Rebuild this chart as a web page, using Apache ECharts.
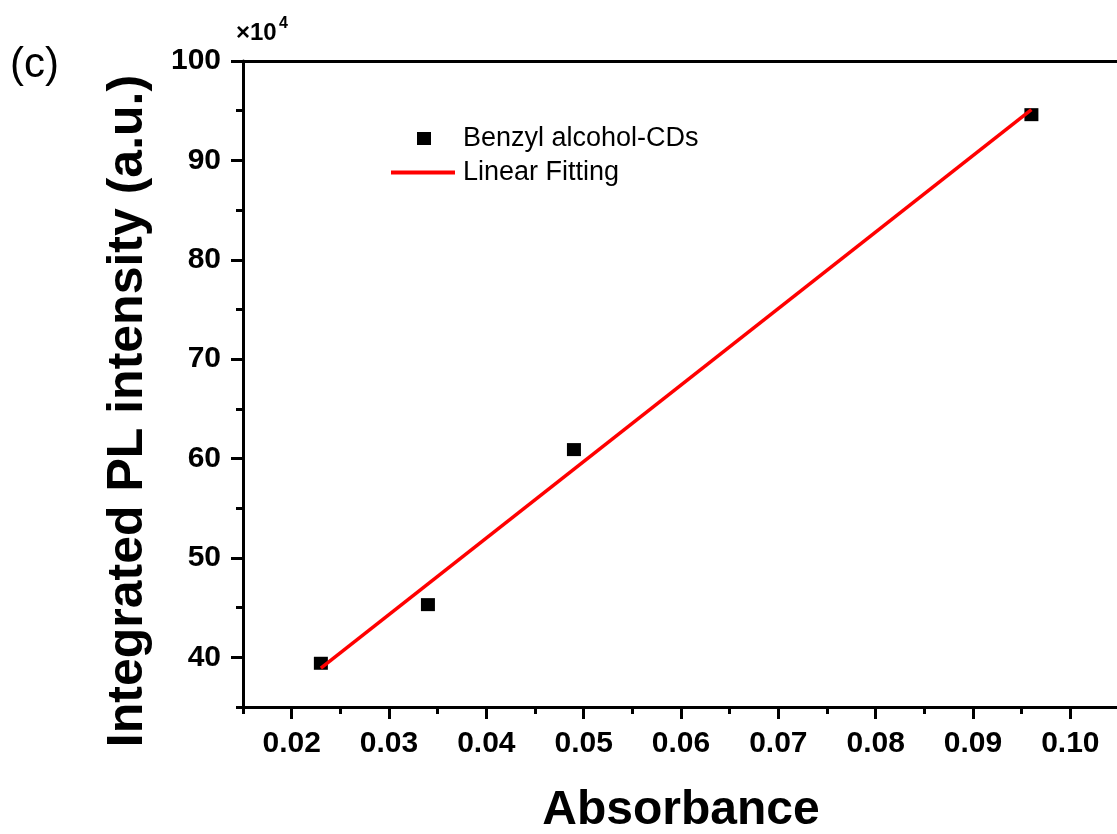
<!DOCTYPE html>
<html>
<head>
<meta charset="utf-8">
<script src="https://cdn.jsdelivr.net/npm/echarts@6/dist/echarts.min.js"></script>
<style>html,body{margin:0;padding:0;background:#fff;}#c{width:1117px;height:834px;}</style>
</head>
<body>
<div id="c"></div>
<script>
// Data (intensity in units of 10^4)
const absorbance = [0.023, 0.034, 0.049, 0.096];
const plIntensity = [39.4, 45.3, 60.9, 94.6];
const fitX = [0.023, 0.096];
const fitY = [38.9, 95.1];
const xMajorTicks = [0.02, 0.03, 0.04, 0.05, 0.06, 0.07, 0.08, 0.09, 0.10];
const xMinorTicks = [0.015, 0.025, 0.035, 0.045, 0.055, 0.065, 0.075, 0.085, 0.095];
const yMajorTicks = [40, 50, 60, 70, 80, 90, 100];
const yMinorTicks = [35, 45, 55, 65, 75, 85, 95];
const seriesNames = ['Benzyl alcohol-CDs', 'Linear Fitting'];

const FONT = "'Liberation Sans', Arial, sans-serif";
const chart = echarts.init(document.getElementById('c'), null, {renderer: 'canvas'});
const X_MIN = 0.015, X_MAX = 0.105, Y_MIN = 35, Y_MAX = 100;

const axisLineStyle = {show: true, lineStyle: {color: '#000', width: 3}};

chart.setOption({
  animation: false,
  backgroundColor: '#fff',
  grid: {left: 243, top: 61, right: -2, bottom: 127, containLabel: false, outerBoundsMode: 'none'},
  legend: [
    {
      data: [{name: seriesNames[0], icon: 'rect'}], left: 417, top: 125, padding: 0,
      itemWidth: 14, itemHeight: 13,
      itemStyle: {color: '#000', opacity: 1},
      textStyle: {fontFamily: FONT, fontSize: 27, color: '#000', padding: [0, 0, 0, 27]}
    },
    {
      data: [{name: seriesNames[1], icon: 'rect'}], left: 391, top: 159, padding: 0,
      itemWidth: 64, itemHeight: 4,
      itemStyle: {color: '#ff0000'},
      textStyle: {fontFamily: FONT, fontSize: 27, color: '#000', padding: [0, 0, 0, 3]}
    }
  ],
  xAxis: [
    {
      type: 'value', position: 'bottom', min: X_MIN, max: X_MAX,
      axisLine: axisLineStyle,
      axisTick: {show: true, inside: false, length: 12, lineStyle: {color: '#000', width: 3}, customValues: xMajorTicks},
      axisLabel: {show: true, margin: 22, customValues: xMajorTicks, formatter: v => v.toFixed(2),
        fontFamily: FONT, fontWeight: 'bold', fontSize: 30, color: '#000'},
      splitLine: {show: false},
      name: 'Absorbance', nameLocation: 'middle', nameGap: 80,
      nameTextStyle: {fontFamily: FONT, fontWeight: 'bold', fontSize: 48, color: '#000'}
    },
    {
      type: 'value', position: 'bottom', min: X_MIN, max: X_MAX,
      axisLine: {show: false},
      axisTick: {show: true, inside: false, length: 7, lineStyle: {color: '#000', width: 3}, customValues: xMinorTicks},
      axisLabel: {show: false},
      splitLine: {show: false}
    },
    {
      type: 'value', position: 'top', min: X_MIN, max: X_MAX,
      axisLine: axisLineStyle, axisTick: {show: false}, axisLabel: {show: false}, splitLine: {show: false}
    }
  ],
  yAxis: [
    {
      type: 'value', position: 'left', min: Y_MIN, max: Y_MAX,
      axisLine: axisLineStyle,
      axisTick: {show: true, inside: false, length: 12, lineStyle: {color: '#000', width: 3}, customValues: yMajorTicks},
      axisLabel: {show: true, margin: 22, customValues: yMajorTicks,
        fontFamily: FONT, fontWeight: 'bold', fontSize: 30, color: '#000'},
      splitLine: {show: false}
    },
    {
      type: 'value', position: 'left', min: Y_MIN, max: Y_MAX,
      axisLine: {show: false},
      axisTick: {show: true, inside: false, length: 7, lineStyle: {color: '#000', width: 3}, customValues: yMinorTicks},
      axisLabel: {show: false},
      splitLine: {show: false}
    }
  ],
  graphic: [
    {type: 'text', left: 10, top: 44, style: {text: '(c)', font: `42px ${FONT}`, fill: '#000'}},
    {type: 'text', left: 236, top: 21, style: {text: '×10', font: `bold 24px ${FONT}`, fill: '#000'}},
    {type: 'text', left: 279, top: 16, style: {text: '4', font: `bold 16px ${FONT}`, fill: '#000'}},
    {type: 'text', x: 128, y: 411, rotation: Math.PI / 2,
      style: {text: 'Integrated PL intensity (a.u.)', font: `bold 50px ${FONT}`, fill: '#000', align: 'center', verticalAlign: 'middle'}}
  ],
  series: [
    {
      name: seriesNames[0], type: 'scatter', xAxisIndex: 0, yAxisIndex: 0,
      symbol: 'rect', symbolSize: [14, 13], itemStyle: {color: '#000', opacity: 1},
      data: absorbance.map((x, i) => [x, plIntensity[i]]), z: 2
    },
    {
      name: seriesNames[1], type: 'line', xAxisIndex: 0, yAxisIndex: 0,
      symbol: 'none', showSymbol: false, lineStyle: {color: '#ff0000', width: 3.5}, itemStyle: {color: '#ff0000'},
      data: fitX.map((x, i) => [x, fitY[i]]), z: 3
    }
  ]
});
</script>
</body>
</html>
